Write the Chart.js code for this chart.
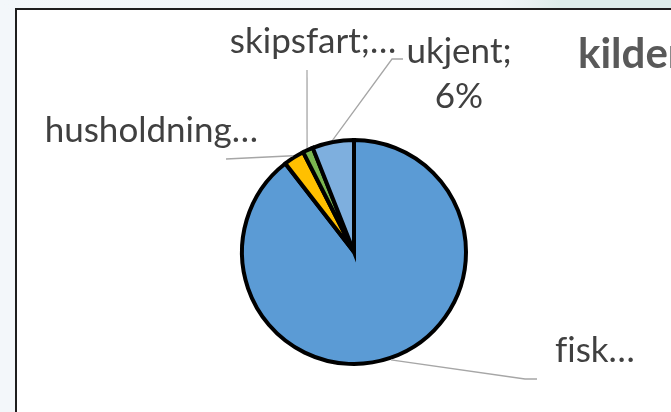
<!DOCTYPE html>
<html>
<head>
<meta charset="utf-8">
<script src="https://cdn.jsdelivr.net/npm/chart.js@4"></script>
<style>
  html, body { margin: 0; padding: 0; }
  body { width: 671px; height: 412px; overflow: hidden; position: relative; background: #f3f7fa; }
  #band { position: absolute; left: 0; top: 0; width: 671px; height: 9px;
          background: linear-gradient(to right, #f3f7fa 0px, #eef4f6 500px, #e8f0f1 530px, #ddecea 560px, #ddecea 671px); }
  #frame { position: absolute; left: 15px; top: 8px; width: 700px; height: 450px;
           background: #fff; border-left: 2px solid #1e1e1e; border-top: 2px solid #1e1e1e; }
  #chart { position: absolute; left: 0; top: 0; }
</style>
</head>
<body>
<div id="band"></div>
<div id="frame"></div>
<canvas id="chart" width="671" height="412"></canvas>
<script>
const categories = ['fisk', 'husholdning', 'skipsfart', 'ukjent'];
const shares = [89.5, 3, 1.5, 6];
// \u200c keeps "fi" from turning into a ligature
const labelTexts = [['f\u200cisk…'], ['husholdning…'], ['skipsfart;…'], ['ukjent;', '6%']];
const sliceColors = ['#5b9bd5', '#ffc000', '#7ab650', '#7eafde'];
const titleText = 'kilder';

// where each label and its leader line sit, relative to the pie centre
const labelLayout = [
    { path: [[171, 127], [183, 127]], text: [201, 110], align: 'left' },
    { path: [[-128, -93]], text: [-96, -110], align: 'right' },
    { path: [[-47, -182]], text: [-41, -199], align: 'center' },
    { path: [[38, -193], [49, -193]], text: [105, -189], align: 'center' }
];

const FONT = 'Lato, "Open Sans", sans-serif';

const pieLabels = {
    id: 'pieLabels',
    afterDatasetsDraw(chart) {
        const ctx = chart.ctx;
        const meta = chart.getDatasetMeta(0);
        ctx.save();
        meta.data.forEach((arc, i) => {
            const { x, y, startAngle, endAngle, outerRadius } = arc.getProps(['x', 'y', 'startAngle', 'endAngle', 'outerRadius'], true);
            const mid = (startAngle + endAngle) / 2;
            const lay = labelLayout[i];

            ctx.strokeStyle = '#a6a6a6';
            ctx.lineWidth = 1.3;
            ctx.beginPath();
            ctx.moveTo(x + Math.cos(mid) * (outerRadius + 2), y + Math.sin(mid) * (outerRadius + 2));
            lay.path.forEach(p => ctx.lineTo(x + p[0], y + p[1]));
            ctx.stroke();

            ctx.fillStyle = '#404040';
            ctx.font = '35px ' + FONT;
            ctx.textAlign = lay.align;
            ctx.textBaseline = 'alphabetic';
            labelTexts[i].forEach((line, j) => {
                ctx.fillText(line, x + lay.text[0], y + lay.text[1] + j * 45);
            });
        });

        ctx.fillStyle = '#595959';
        ctx.font = 'bold 42px ' + FONT;
        ctx.textAlign = 'left';
        ctx.fillText(titleText, 578, 68);
        ctx.restore();
    }
};

new Chart(document.getElementById('chart'), {
    type: 'pie',
    data: {
        labels: categories,
        datasets: [{
            data: shares,
            backgroundColor: sliceColors,
            borderColor: '#000',
            borderWidth: 4,
            borderJoinStyle: 'miter',
            hoverOffset: 0
        }]
    },
    options: {
        responsive: false,
        animation: false,
        radius: 112,
        layout: { padding: { left: 37, top: 92, right: 0, bottom: 0 } },
        plugins: {
            legend: { display: false },
            tooltip: { enabled: false }
        }
    },
    plugins: [pieLabels]
});
</script>
</body>
</html>
